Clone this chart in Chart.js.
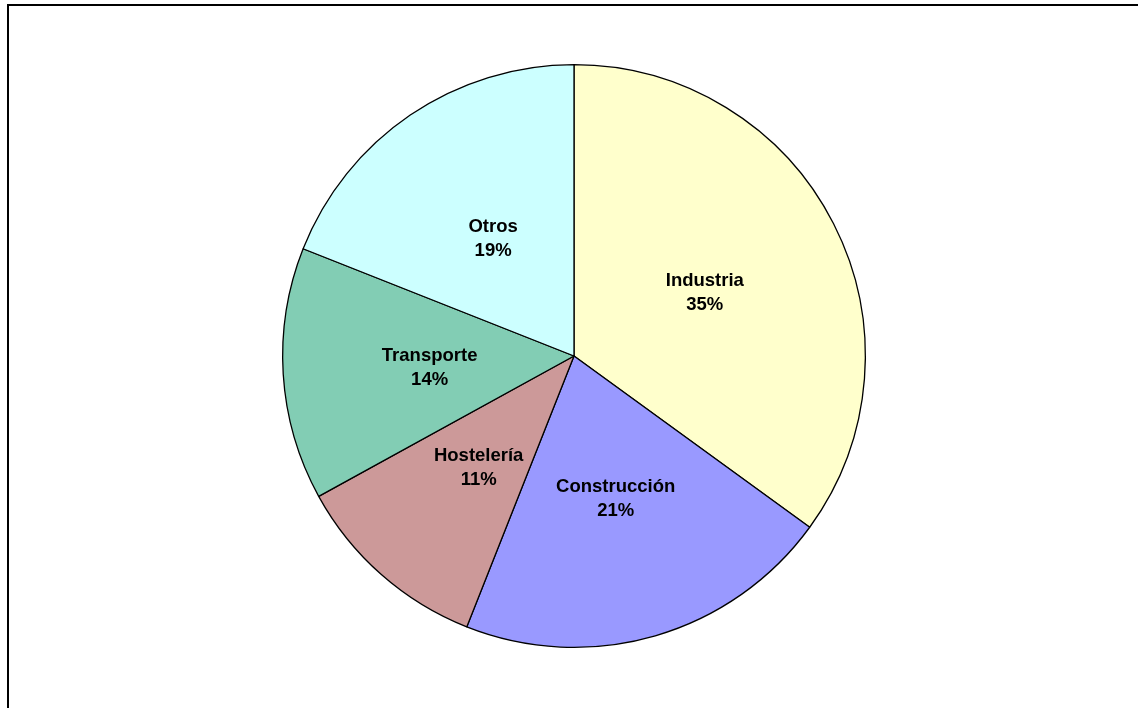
<!DOCTYPE html>
<html>
<head>
<meta charset="utf-8">
<script src="https://cdn.jsdelivr.net/npm/chart.js@4"></script>
<style>
  html, body { margin: 0; padding: 0; background: #fff; }
  #wrap { width: 1138px; height: 708px; position: relative; }
</style>
</head>
<body>
<div id="wrap"><canvas id="pieChart" width="1138" height="708"></canvas></div>
<script>
const sectors = ['Industria', 'Construcción', 'Hostelería', 'Transporte', 'Otros'];
const shares = [35, 21, 11, 14, 19];
const sectorColors = ['#FFFFCC', '#9999FF', '#CC9999', '#82CDB4', '#CCFFFF'];

// frame in the top-left corner, and the labels in the middle of each slice
const framePlugin = {
    id: 'frame',
    beforeDraw(chart) {
        const ctx = chart.ctx;
        ctx.save();
        ctx.strokeStyle = '#000';
        ctx.lineWidth = 2;
        ctx.beginPath();
        ctx.moveTo(8, 708);
        ctx.lineTo(8, 5);
        ctx.lineTo(1138, 5);
        ctx.stroke();
        ctx.restore();
    }
};

const sliceLabels = {
    id: 'sliceLabels',
    afterDatasetsDraw(chart) {
        const ctx = chart.ctx;
        const meta = chart.getDatasetMeta(0);
        ctx.save();
        ctx.fillStyle = '#000';
        ctx.font = 'bold 18.5px "Liberation Sans", Arial, sans-serif';
        ctx.textAlign = 'center';
        ctx.textBaseline = 'middle';
        meta.data.forEach(function(arc, i) {
            const p = arc.getCenterPoint();
            ctx.fillText(chart.data.labels[i], p.x + 1, p.y - 9);
            ctx.fillText(chart.data.datasets[0].data[i] + '%', p.x + 1, p.y + 15);
        });
        ctx.restore();
    }
};

const ctx = document.getElementById('pieChart').getContext('2d');
const pieChart = new Chart(ctx, {
    type: 'pie',
    data: {
        labels: sectors,
        datasets: [{
            data: shares,
            backgroundColor: sectorColors,
            borderColor: '#000',
            borderWidth: 1.3
        }]
    },
    options: {
        responsive: false,
        animation: false,
        layout: { padding: { top: 64, bottom: 60, left: 10, right: 0 } },
        plugins: {
            legend: { display: false },
            tooltip: { enabled: false }
        }
    },
    plugins: [framePlugin, sliceLabels]
});
</script>
</body>
</html>
